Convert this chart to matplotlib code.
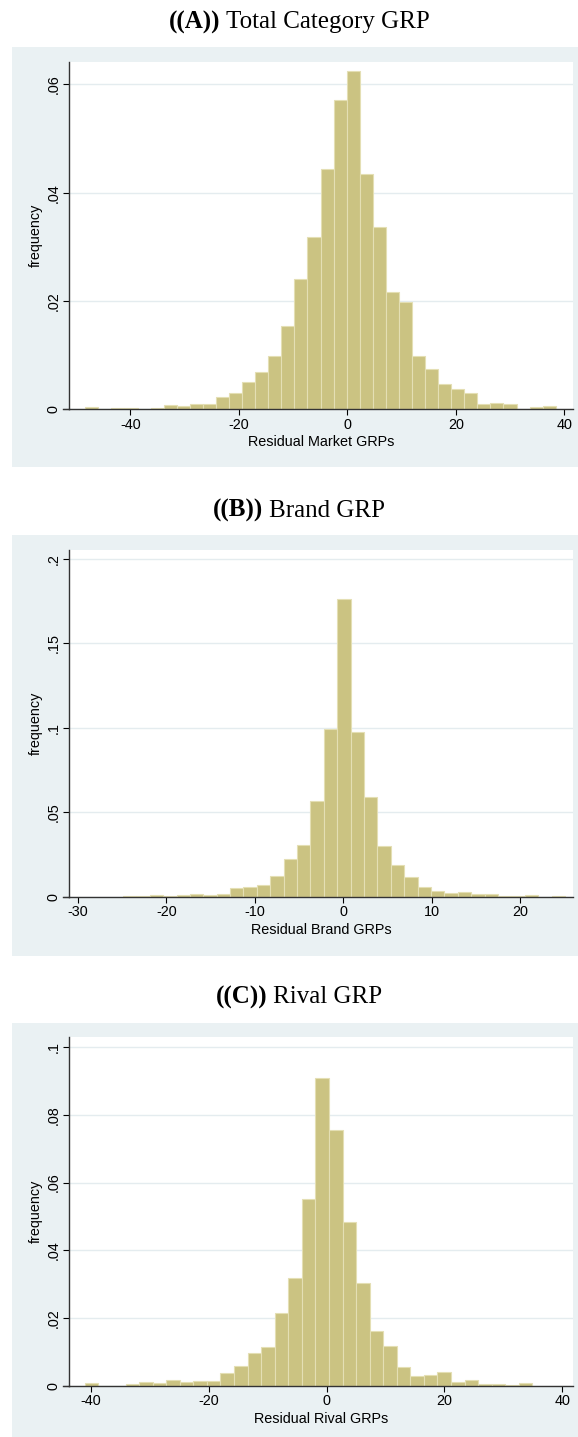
import matplotlib
matplotlib.use("Agg")
import matplotlib.pyplot as plt
from matplotlib.patches import Rectangle
from matplotlib.lines import Line2D
import numpy as np

# ---------------- data: histogram densities per bin ----------------
market_start = -48.3
market_binwidth = 2.409
market_density = [0.0004, 0.0, 0.0003, 0.00025, 0.0, 0.0002, 0.0008, 0.0006, 0.0010, 0.00105,
                  0.0022, 0.0030, 0.0050, 0.0068, 0.0098, 0.0153, 0.0241, 0.0318, 0.0443, 0.0572,
                  0.0625, 0.0434, 0.0336, 0.0217, 0.0198, 0.0098, 0.0074, 0.0047, 0.0037, 0.0031,
                  0.0010, 0.0012, 0.00105, 0.0001, 0.0004, 0.0006]
market_xticks = [-40, -20, 0, 20, 40]
market_yticks = [0, 0.02, 0.04, 0.06]
market_yticklabels = ["0", ".02", ".04", ".06"]

brand_start = -24.9
brand_binwidth = 1.515
brand_density = [0.0006, 0.0008, 0.0012, 0.0006, 0.0012, 0.0018, 0.0012, 0.0020,
                 0.0051, 0.0059, 0.0073, 0.0124, 0.0225, 0.0306, 0.0566,
                 0.0994, 0.1761, 0.0974, 0.0592, 0.0302, 0.0189, 0.0118, 0.0059,
                 0.0037, 0.0024, 0.0032, 0.0016, 0.0018, 0.0006, 0.0004, 0.0012, 0.0, 0.0004]
brand_xticks = [-30, -20, -10, 0, 10, 20]
brand_yticks = [0, 0.05, 0.1, 0.15, 0.2]
brand_yticklabels = ["0", ".05", ".1", ".15", ".2"]

rival_start = -41.0
rival_binwidth = 2.30
rival_density = [0.0007, 0.0, 0.0, 0.0004, 0.0011, 0.0008, 0.0017, 0.0011, 0.0013, 0.0014,
                 0.0038, 0.0058, 0.0097, 0.0113, 0.0216, 0.0317, 0.0551, 0.0908,
                 0.0756, 0.0483, 0.0304, 0.0161, 0.0116, 0.0054, 0.0029, 0.0033, 0.0041,
                 0.0012, 0.0016, 0.0005, 0.0005, 0.0003, 0.0007]
rival_xticks = [-40, -20, 0, 20, 40]
rival_yticks = [0, 0.02, 0.04, 0.06, 0.08, 0.1]
rival_yticklabels = ["0", ".02", ".04", ".06", ".08", ".1"]

titles_tag = ["((A))", "((B))", "((C))"]
titles_text = ["Total Category GRP", "Brand GRP", "Rival GRP"]
xlabels = ["Residual Market GRPs", "Residual Brand GRPs", "Residual Rival GRPs"]
ylabel = "frequency"

# ---------------- styling / layout (pixels) ----------------
W, H = 578, 1437
DPI = 100
BAR_FILL = "#CBC382"
BAR_EDGE = "#E4DFB4"
REGION = "#EAF1F3"
GRID = "#E4ECEF"
AXIS = "#333333"
SANS = ["Liberation Sans", "DejaVu Sans"]
SERIF = ["Liberation Serif", "DejaVu Serif"]
LABEL_SIZE = 10.4
TITLE_SIZE = 18

layout = [
    # title baseline, gray region top/bottom, plot top/bottom, xlim, ylim
    dict(title_y=28.3, box=(47, 466.5), plot=(61.7, 409.3), xlim=(-51.3, 41.6), ylim=(0, 0.0642)),
    dict(title_y=516.7, box=(535, 955.5), plot=(550, 897), xlim=(-31.0, 26.0), ylim=(0, 0.2053)),
    dict(title_y=1003.3, box=(1022.7, 1437), plot=(1037.3, 1385.7), xlim=(-43.7, 41.8), ylim=(0, 0.1029)),
]
PLOT_LEFT, PLOT_RIGHT = 69, 573
BOX_LEFT = 12
TITLE_CX = 299

series = [
    (market_start, market_binwidth, market_density, market_xticks, market_yticks, market_yticklabels),
    (brand_start, brand_binwidth, brand_density, brand_xticks, brand_yticks, brand_yticklabels),
    (rival_start, rival_binwidth, rival_density, rival_xticks, rival_yticks, rival_yticklabels),
]

fig = plt.figure(figsize=(W / DPI, H / DPI), dpi=DPI)
fig.patch.set_facecolor("white")
renderer = fig.canvas.get_renderer()


def fx(px):
    return px / W


def fy(py):
    return 1 - py / H


for i, (start, bw, dens, xt, yt, ytl) in enumerate(series):
    lay = layout[i]
    b0, b1 = lay["box"]
    fig.patches.append(Rectangle((fx(BOX_LEFT), fy(b1)), fx(W - BOX_LEFT), (b1 - b0) / H,
                                 transform=fig.transFigure, facecolor=REGION,
                                 edgecolor="none", zorder=-5))

    p0, p1 = lay["plot"]
    ax = fig.add_axes([fx(PLOT_LEFT), fy(p1), fx(PLOT_RIGHT - PLOT_LEFT), (p1 - p0) / H])
    ax.set_facecolor("white")

    dens = np.asarray(dens)
    edges = start + bw * np.arange(len(dens))
    ax.bar(edges, dens, width=bw, align="edge", color=BAR_FILL,
           edgecolor=BAR_EDGE, linewidth=0.8, zorder=2)

    ax.set_xlim(*lay["xlim"])
    ax.set_ylim(*lay["ylim"])
    ax.set_xticks(xt)
    ax.set_xticklabels([str(v) for v in xt], fontfamily=SANS, fontsize=LABEL_SIZE)
    ax.set_yticks(yt)
    ax.set_yticklabels(ytl, rotation=90, va="center", fontfamily=SANS, fontsize=LABEL_SIZE)
    ax.tick_params(axis="both", direction="out", length=4, width=0.8, color="black")
    ax.tick_params(axis="x", pad=2.0)
    ax.tick_params(axis="y", pad=2.0)

    ax.yaxis.grid(True, color=GRID, linewidth=1.0)
    ax.set_axisbelow(True)
    for s in ("top", "right"):
        ax.spines[s].set_visible(False)
    for s in ("left", "bottom"):
        ax.spines[s].set_color(AXIS)
        ax.spines[s].set_linewidth(1.0)
    # x axis line runs slightly past the y axis on the left
    ax.add_line(Line2D([-0.012, 0], [0, 0], transform=ax.transAxes, color=AXIS,
                       linewidth=1.0, clip_on=False))

    ax.set_xlabel(xlabels[i], fontfamily=SANS, fontsize=LABEL_SIZE, labelpad=2.5)
    ax.set_ylabel(ylabel, fontfamily=SANS, fontsize=LABEL_SIZE, labelpad=2.5)

    # title: bold tag followed by regular text, centred as a unit
    ty = fy(lay["title_y"])
    t1 = fig.text(0, ty, titles_tag[i], fontfamily=SERIF, fontweight="bold",
                  fontsize=TITLE_SIZE, ha="left", va="baseline")
    t2 = fig.text(0, ty, titles_text[i], fontfamily=SERIF, fontsize=TITLE_SIZE,
                  ha="left", va="baseline")
    w1 = t1.get_window_extent(renderer).width
    w2 = t2.get_window_extent(renderer).width
    gap = 6
    x0 = TITLE_CX - (w1 + gap + w2) / 2
    t1.set_x(fx(x0))
    t2.set_x(fx(x0 + w1 + gap))

fig.savefig("out.png", dpi=DPI, facecolor="white")
